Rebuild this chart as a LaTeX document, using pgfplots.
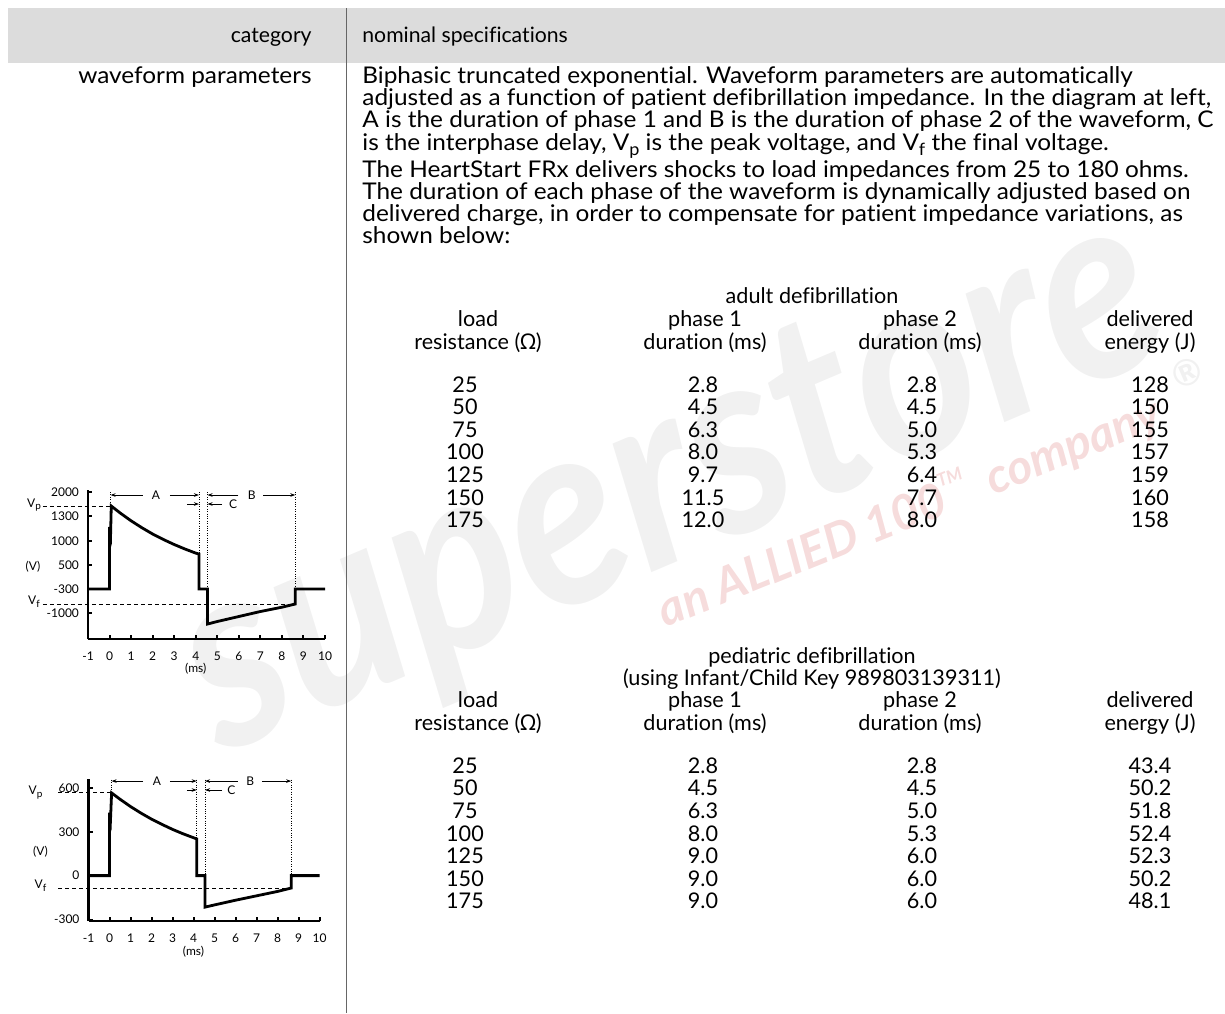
\documentclass[border=0pt]{standalone}
\usepackage{pgfplots}
\pgfplotsset{compat=1.18}
\usepackage{fontspec}
\setmainfont{Lato}[Ligatures=NoCommon]
\newfontfamily\paraf{Lato}[Ligatures=NoCommon, FakeStretch=1.06]
\newfontfamily\grk{Noto Sans}
\usetikzlibrary{arrows.meta}
\newcommand\tblf{\fontsize{10.8}{12.6}\selectfont}
\newcommand\hdf{\fontsize{10.6}{12.6}\selectfont}
\newcommand\paf{\paraf\fontsize{11.5}{13}\selectfont}
\newcommand\smf{\fontsize{6}{7}\selectfont}
\newcommand\Vsub[1]{V\raisebox{-0.45ex}{\fontsize{8.5}{8.5}\selectfont #1}}
\newcommand\Vsm[1]{V\raisebox{-0.45ex}{\fontsize{5}{5}\selectfont #1}}
\definecolor{band}{HTML}{DCDCDC}
\definecolor{wmgray}{HTML}{F1F1F1}
\definecolor{wmpink}{HTML}{F6DCDC}
\begin{document}
\begin{tikzpicture}
\useasboundingbox (0,0) rectangle (612.5pt,-506.5pt);
\begin{scope}[x=0.5pt,y=-0.5pt]
% watermark
\node[anchor=base, rotate=23, text=wmgray, inner sep=0, font=\bfseries\itshape\fontsize{130}{130}\selectfont, xscale=0.9] at (700,552) {superstore};
\node[anchor=base, rotate=23, text=wmgray, inner sep=0, font=\bfseries\fontsize{18}{18}\selectfont] at (1192,385) {®};
\node[anchor=base, rotate=22, text=wmpink, inner sep=0, font=\bfseries\itshape\fontsize{24}{24}\selectfont] at (915,527) {an ALLIED 100\raisebox{1.1ex}{\fontsize{9}{9}\selectfont TM}\ \ company};
% table frame
\fill[band] (8,8) rectangle (1225,63);
\draw[black!60, line width=0.5pt] (346,8) -- (346,1013);
\node[anchor=base east,font=\hdf,inner sep=0] at (312,42) {category};
\node[anchor=base west,font=\hdf,inner sep=0] at (362,42) {nominal specifications};
\node[anchor=base east,font=\paf,inner sep=0] at (312,83) {waveform parameters};
\begin{scope}[every node/.style={anchor=base west,font=\paf,inner sep=0}]
\node at (362,83) {Biphasic truncated exponential. Waveform parameters are automatically};
\node at (362,105) {adjusted as a function of patient defibrillation impedance. In the diagram at left,};
\node at (362,127) {A is the duration of phase 1 and B is the duration of phase 2 of the waveform, C};
\node at (362,150) {is the interphase delay, \Vsub{p} is the peak voltage, and \Vsub{f} the final voltage.};
\node at (362,177) {The HeartStart FRx delivers shocks to load impedances from 25 to 180 ohms.};
\node at (362,199) {The duration of each phase of the waveform is dynamically adjusted based on};
\node at (362,221) {delivered charge, in order to compensate for patient impedance variations, as};
\node at (362,243) {shown below:};
\end{scope}
\begin{scope}[every node/.style={anchor=base,font=\tblf,inner sep=0}]
% adult
\node at (812,303) {adult defibrillation};
\node at (478,326) {load};
\node at (478,349) {resistance ({\grk Ω})};
\node at (705,326) {phase 1};
\node at (705,349) {duration (ms)};
\node at (920,326) {phase 2};
\node at (920,349) {duration (ms)};
\node at (1150,326) {delivered};
\node at (1150,349) {energy (J)};
\foreach \y/\a/\b/\c/\d in {392/25/2.8/2.8/128, 414/50/4.5/4.5/150, 437/75/6.3/5.0/155, 459/100/8.0/5.3/157, 482/125/9.7/6.4/159, 505/150/11.5/7.7/160, 527/175/12.0/8.0/158}{
  \node at (465,\y) {\a}; \node at (703,\y) {\b}; \node at (922,\y) {\c}; \node at (1150,\y) {\d};
}
% pediatric
\node at (812,663) {pediatric defibrillation};
\node at (812,685) {(using Infant/Child Key 989803139311)};
\node at (478,707) {load};
\node at (478,730) {resistance ({\grk Ω})};
\node at (705,707) {phase 1};
\node at (705,730) {duration (ms)};
\node at (920,707) {phase 2};
\node at (920,730) {duration (ms)};
\node at (1150,707) {delivered};
\node at (1150,730) {energy (J)};
\foreach \y/\a/\b/\c/\d in {773/25/2.8/2.8/43.4, 795/50/4.5/4.5/50.2, 818/75/6.3/5.0/51.8, 841/100/8.0/5.3/52.4, 863/125/9.0/6.0/52.3, 886/150/9.0/6.0/50.2, 908/175/9.0/6.0/48.1}{
  \node at (465,\y) {\a}; \node at (703,\y) {\b}; \node at (922,\y) {\c}; \node at (1150,\y) {\d};
}
\end{scope}
\end{scope}

\pgfplotsset{wave/.style={
  scale only axis, anchor=south west, clip=false,
  xmin=-1, xmax=10,
  axis x line*=bottom, axis y line*=left,
  axis line style={line width=1.3pt},
  tick align=inside, major tick length=2.2pt,
  tick style={line width=1pt,black},
  xtick={-1,0,...,10}, xticklabels={-1,0,1,2,3,4,5,6,7,8,9,10},
  ticklabel style={font=\smf},
  xticklabel style={yshift=-3pt},
  yticklabel style={xshift=-1pt},
}}
% ---------- chart 1 (adult) ----------
\begin{axis}[wave, at={(44pt,-319.5pt)}, width=118.5pt, height=74.5pt,
  ymin=0, ymax=149,
  ytick={26,50,74,98,123,147}, yticklabels={-1000,-300,500,1000,1300,2000}]
\addplot[black, line width=1.4pt, line join=miter] coordinates {
 (-1,50) (0,50) (0,112) (0.05,106) (0.08,133) (0.5,125.9) (1,118.2) (1.5,111.3)
 (2,105.0) (2.5,99.5) (3,94.5) (3.5,90.0) (4,85.9) (4.15,85.0) (4.15,50) (4.55,50)
 (4.55,15) (5,17.5) (6,22.5) (7,27.5) (8,31.8) (8.62,35) (8.62,50) (10,50)};
\addplot[black, line width=0.5pt, dash pattern=on 2pt off 1.5pt] coordinates {(-3.09,133) (0.08,133)};
\addplot[black, line width=0.5pt, dash pattern=on 2pt off 1.5pt] coordinates {(-3.09,35) (8.62,35)};
\addplot[black, line width=0.4pt, dash pattern=on 0.4pt off 0.8pt] coordinates {(0.05,147) (0.05,133)};
\addplot[black, line width=0.4pt, dash pattern=on 0.4pt off 0.8pt] coordinates {(4.15,147) (4.15,50)};
\addplot[black, line width=0.4pt, dash pattern=on 0.4pt off 0.8pt] coordinates {(4.55,147) (4.55,50)};
\addplot[black, line width=0.4pt, dash pattern=on 0.4pt off 0.8pt] coordinates {(8.62,147) (8.62,50)};
\draw[-{Stealth[length=2.5pt,width=1.8pt]}, line width=0.4pt] (axis cs:1.55,144) -- (axis cs:0.05,144);
\draw[-{Stealth[length=2.5pt,width=1.8pt]}, line width=0.4pt] (axis cs:2.8,144) -- (axis cs:4.15,144);
\node[font=\smf] at (axis cs:2.15,144) {A};
\draw[-{Stealth[length=2.5pt,width=1.8pt]}, line width=0.4pt] (axis cs:5.98,144) -- (axis cs:4.55,144);
\draw[-{Stealth[length=2.5pt,width=1.8pt]}, line width=0.4pt] (axis cs:7.14,144) -- (axis cs:8.62,144);
\node[font=\smf] at (axis cs:6.6,144) {B};
\draw[-{Stealth[length=2.5pt,width=1.8pt]}, line width=0.4pt] (axis cs:3.6,135) -- (axis cs:4.15,135);
\draw[-{Stealth[length=2.5pt,width=1.8pt]}, line width=0.4pt] (axis cs:5.23,135) -- (axis cs:4.55,135);
\node[font=\smf] at (axis cs:5.74,135) {C};
\node[font=\smf] at (axis cs:4.0,0) [yshift=-15pt] {(ms)};
\node[font=\smf] at (axis cs:-1,72) [xshift=-27.5pt] {(V)};
\node[font=\smf] at (axis cs:-1,134) [xshift=-27pt] {\Vsm{p}};
\node[font=\smf] at (axis cs:-1,37) [xshift=-27pt] {\Vsm{f}};
\end{axis}
% ---------- chart 2 (pediatric) ----------
\begin{axis}[wave, at={(44.25pt,-460.5pt)}, width=115.5pt, height=71pt,
  ymin=-310, ymax=660,
  ytick={-300,0,300,600}, yticklabels={-300,0,300,600}]
\addplot[black, line width=1.4pt, line join=miter] coordinates {
 (-1,0) (0,0) (0,430) (0.05,390) (0.1,565) (0.5,522) (1,472) (1.5,427)
 (2,386) (2.5,350) (3,316) (3.5,286) (4,259) (4.15,251) (4.15,0) (4.55,0)
 (4.55,-215) (5,-200) (6,-168) (7,-138) (8,-108) (8.65,-85) (8.65,0) (10,0)};
\addplot[black, line width=0.5pt, dash pattern=on 2pt off 1.5pt] coordinates {(-2.45,565) (0.1,565)};
\addplot[black, line width=0.5pt, dash pattern=on 2pt off 1.5pt] coordinates {(-2.45,-85) (8.65,-85)};
\addplot[black, line width=0.4pt, dash pattern=on 0.4pt off 0.8pt] coordinates {(0.1,655) (0.1,565)};
\addplot[black, line width=0.4pt, dash pattern=on 0.4pt off 0.8pt] coordinates {(4.15,655) (4.15,0)};
\addplot[black, line width=0.4pt, dash pattern=on 0.4pt off 0.8pt] coordinates {(4.55,655) (4.55,0)};
\addplot[black, line width=0.4pt, dash pattern=on 0.4pt off 0.8pt] coordinates {(8.65,655) (8.65,0)};
\draw[-{Stealth[length=2.5pt,width=1.8pt]}, line width=0.4pt] (axis cs:1.6,646) -- (axis cs:0.1,646);
\draw[-{Stealth[length=2.5pt,width=1.8pt]}, line width=0.4pt] (axis cs:2.88,646) -- (axis cs:4.15,646);
\node[font=\smf] at (axis cs:2.26,646) {A};
\draw[-{Stealth[length=2.5pt,width=1.8pt]}, line width=0.4pt] (axis cs:6.1,646) -- (axis cs:4.55,646);
\draw[-{Stealth[length=2.5pt,width=1.8pt]}, line width=0.4pt] (axis cs:7.26,646) -- (axis cs:8.65,646);
\node[font=\smf] at (axis cs:6.7,646) {B};
\draw[-{Stealth[length=2.5pt,width=1.8pt]}, line width=0.4pt] (axis cs:3.69,585) -- (axis cs:4.15,585);
\draw[-{Stealth[length=2.5pt,width=1.8pt]}, line width=0.4pt] (axis cs:5.36,585) -- (axis cs:4.55,585);
\node[font=\smf] at (axis cs:5.8,585) {C};
\node[font=\smf] at (axis cs:4.0,-310) [yshift=-15.5pt] {(ms)};
\node[font=\smf] at (axis cs:-1,161) [xshift=-24pt] {(V)};
\node[font=\smf] at (axis cs:-1,568) [xshift=-26.5pt] {\Vsm{p}};
\node[font=\smf] at (axis cs:-1,-70) [xshift=-24pt] {\Vsm{f}};
\end{axis}
\end{tikzpicture}
\end{document}
